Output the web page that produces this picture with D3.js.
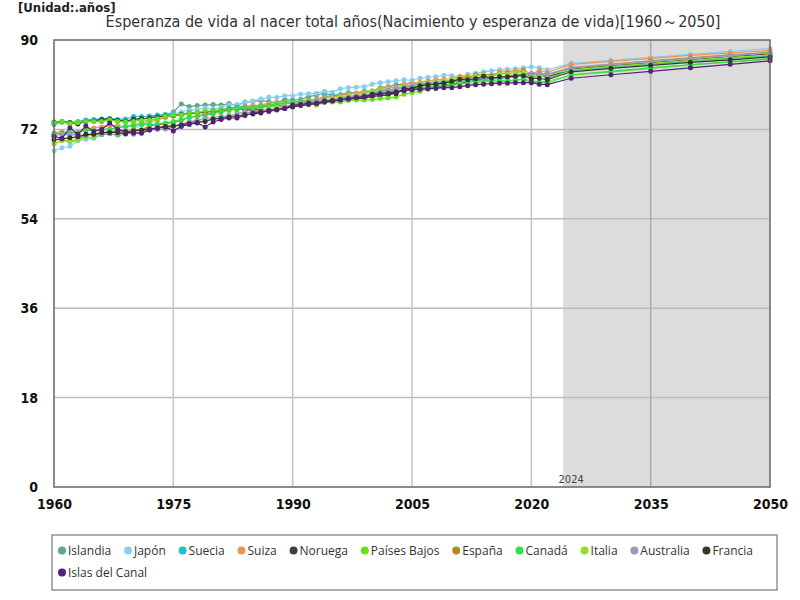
<!DOCTYPE html>
<html>
<head>
<meta charset="utf-8">
<script src="https://cdn.jsdelivr.net/npm/d3@7"></script>
<style>
  body { margin: 0; background: #fff; }
  svg text { font-family: "Open Sans", "Noto Sans", sans-serif; }
</style>
</head>
<body>
<div id="chart"></div>
<script>
// historical years 1960..2022, then the projected points
const histYears = d3.range(1960, 2023);
const projYears = [2025, 2030, 2035, 2040, 2045, 2050];
const yTicks = [0, 18, 36, 54, 72, 90];
const xTicks = [1960, 1975, 1990, 2005, 2020, 2035, 2050];
const forecastStart = 2024;

const countries = ["Islandia", "Japón", "Suecia", "Suiza", "Noruega", "Países Bajos",
  "España", "Canadá", "Italia", "Australia", "Francia", "Islas del Canal"];
const colors = ["#5ba88a", "#87cef0", "#22c0c8", "#f0954f", "#404040", "#66e01a",
  "#b08a20", "#2ee04a", "#8ee030", "#9a98b8", "#2f3a26", "#55207a"];

// 1960-2022 (63 values) + 2025..2050
const islandia = [73.4,73.5,73.1,73.3,73.6,73.7,73.6,73.9,73.9,73.7,
  74.0,73.9,74.5,74.7,74.9,75.5,77.1,76.6,76.8,76.9,
  77.0,76.9,77.2,76.8,77.5,77.6,77.8,77.6,77.4,78.0,
  77.9,78.0,78.6,78.9,79.3,78.9,79.0,79.4,79.3,79.7,
  79.7,80.4,80.6,81.0,81.1,81.4,81.2,81.4,81.6,81.8,
  81.9,82.4,82.5,82.1,82.9,82.5,82.2,82.7,82.9,83.2,
  83.1,83.2,82.2,
  84.0,84.6,85.2,85.8,86.3,86.8];
const japon = [67.7,68.3,68.6,69.7,70.0,70.2,71.0,71.3,71.6,71.8,
  72.0,72.9,73.5,73.8,74.4,75.1,75.5,75.9,76.0,76.3,
  76.1,76.4,76.9,77.0,77.4,77.7,78.1,78.5,78.4,78.8,
  78.8,79.1,79.2,79.3,79.7,79.5,80.2,80.4,80.5,80.6,
  81.1,81.4,81.6,81.8,82.0,81.9,82.3,82.5,82.6,82.9,
  82.8,82.6,83.1,83.3,83.6,83.8,84.0,84.1,84.2,84.4,
  84.6,84.4,84.0,
  85.3,85.9,86.5,87.1,87.7,88.3];
const suecia = [73.0,73.5,73.4,73.6,73.9,74.0,74.1,74.2,74.0,74.1,
  74.6,74.6,74.7,74.9,75.0,75.0,75.1,75.4,75.4,75.5,
  75.7,75.9,76.3,76.5,76.7,76.6,76.8,77.0,76.9,77.6,
  77.5,77.6,78.0,78.0,78.7,78.7,79.0,79.2,79.3,79.4,
  79.6,79.8,79.8,80.1,80.5,80.5,80.7,80.9,81.1,81.3,
  81.5,81.8,81.7,81.9,82.2,82.2,82.2,82.4,82.6,83.1,
  82.2,83.2,83.1,
  83.9,84.6,85.2,85.8,86.4,86.9];
const suiza = [71.3,71.6,71.1,71.4,72.1,72.3,72.5,72.8,72.7,72.6,
  73.0,73.2,73.8,74.0,74.4,74.7,75.0,75.3,75.3,75.6,
  75.5,75.8,76.0,76.1,76.6,76.8,76.9,77.3,77.3,77.4,
  77.2,77.6,77.9,78.1,78.4,78.5,78.8,79.1,79.3,79.5,
  79.7,80.2,80.4,80.5,81.1,81.2,81.5,81.8,82.0,82.1,
  82.2,82.7,82.7,82.7,83.2,82.9,83.6,83.6,83.8,84.0,
  83.1,83.9,83.5,
  85.1,85.7,86.3,86.9,87.4,87.9];
const noruega = [73.5,73.6,73.4,73.1,73.6,73.7,74.0,74.1,73.8,73.6,
  74.1,74.2,74.3,74.5,74.7,74.8,75.0,75.2,75.3,75.4,
  75.7,75.8,76.0,76.1,76.0,75.9,76.0,75.8,76.0,76.5,
  76.5,76.9,77.1,77.1,77.7,77.7,78.1,78.1,78.2,78.3,
  78.6,78.8,78.9,79.4,79.8,80.0,80.3,80.5,80.6,80.8,
  81.0,81.3,81.5,81.8,82.1,82.3,82.5,82.6,82.8,83.0,
  83.2,83.2,82.6,
  84.1,84.8,85.4,86.0,86.6,87.2];
const paisesBajos = [73.4,73.6,73.2,73.4,73.6,73.6,73.6,73.9,73.6,73.5,
  73.6,73.8,73.9,74.2,74.6,74.9,74.9,75.3,75.4,75.7,
  75.7,76.0,76.1,76.2,76.3,76.3,76.3,76.7,76.8,76.7,
  76.9,77.0,77.2,76.9,77.4,77.5,77.5,77.8,77.9,77.9,
  78.0,78.2,78.3,78.5,79.1,79.4,79.7,80.1,80.2,80.6,
  80.7,81.2,81.1,81.3,81.7,81.5,81.6,81.7,81.8,82.1,
  81.4,81.5,81.7,
  82.9,83.6,84.3,85.0,85.6,86.2];
const espana = [69.1,69.8,69.6,70.0,70.9,71.1,71.2,71.6,71.6,71.4,
  72.0,71.8,72.8,72.8,73.2,73.3,73.8,74.4,74.7,75.1,
  75.3,75.7,76.1,75.9,76.3,76.3,76.5,76.8,76.8,76.8,
  76.8,77.0,77.5,77.6,77.9,78.0,78.1,78.5,78.6,78.6,
  78.9,79.3,79.6,79.5,80.0,80.1,80.8,80.9,81.2,81.5,
  81.6,82.1,82.4,83.0,83.1,82.8,83.2,83.3,83.4,83.8,
  82.3,83.0,83.1,
  84.4,85.1,85.8,86.4,87.0,87.5];
const canada = [71.1,71.3,71.3,71.4,71.8,71.8,72.0,72.1,72.3,72.6,
  72.7,73.0,73.0,73.1,73.3,73.6,74.0,74.4,74.6,74.8,
  75.1,75.5,75.8,76.2,76.4,76.4,76.6,76.9,77.0,77.2,
  77.4,77.6,77.7,77.7,77.9,78.0,78.2,78.5,78.7,78.9,
  79.2,79.4,79.6,79.8,80.0,80.2,80.4,80.5,80.7,80.9,
  81.2,81.5,81.6,81.7,81.8,81.9,81.9,81.9,81.9,82.2,
  81.7,81.6,81.3,
  83.0,83.7,84.4,85.0,85.6,86.2];
const italia = [69.1,69.8,69.5,69.8,70.5,70.3,71.0,71.1,70.8,71.0,
  71.6,71.9,72.0,72.1,72.7,72.6,72.9,73.5,73.8,74.0,
  74.0,74.3,74.9,74.8,75.4,75.5,75.8,76.2,76.4,76.7,
  77.0,77.1,77.4,77.6,77.9,78.2,78.5,78.8,78.9,79.3,
  79.8,80.0,80.1,80.0,80.8,80.8,81.3,81.4,81.6,81.7,
  82.0,82.2,82.2,82.7,83.1,82.5,83.2,83.1,83.3,83.5,
  82.2,82.8,83.0,
  84.0,84.7,85.3,85.9,86.5,87.0];
const australia = [70.8,71.0,70.9,70.9,70.7,71.0,70.9,71.1,70.9,71.4,
  71.0,71.7,71.9,72.0,72.1,72.6,73.0,73.5,73.8,74.3,
  74.3,74.7,74.6,75.2,75.5,75.4,75.6,76.0,76.0,76.5,
  77.0,77.3,77.4,77.9,78.0,77.9,78.1,78.5,78.6,78.9,
  79.2,79.6,79.9,80.2,80.5,80.8,81.0,81.3,81.4,81.5,
  81.7,81.9,82.0,82.2,82.3,82.4,82.4,82.5,82.7,82.9,
  83.2,83.3,83.1,
  84.5,85.1,85.7,86.3,86.9,87.4];
const francia = [69.9,70.1,70.3,70.5,71.0,71.0,71.4,71.4,71.4,71.1,
  71.7,71.9,72.1,72.3,72.6,72.7,72.9,73.2,73.4,73.6,
  74.1,74.2,74.5,74.6,75.0,75.1,75.3,75.8,76.0,76.2,
  76.9,77.0,77.3,77.3,77.7,77.8,78.0,78.2,78.4,78.5,
  79.1,79.2,79.2,79.2,80.2,80.2,80.8,81.0,81.1,81.3,
  81.7,82.1,82.0,82.2,82.7,82.3,82.6,82.6,82.7,82.8,
  82.2,82.3,82.0,
  83.6,84.3,84.9,85.5,86.0,86.6];
const islasDelCanal = [70.6,70.2,72.3,71.0,72.7,71.6,72.0,73.3,72.0,71.6,
  71.3,71.2,71.9,72.3,72.5,71.7,72.6,73.0,73.3,72.5,
  73.5,74.0,74.3,74.3,74.8,75.3,75.6,75.6,75.9,76.2,
  76.6,76.8,77.0,77.2,77.5,77.7,77.9,78.1,78.4,78.6,
  78.8,79.1,79.3,79.6,79.8,80.0,80.1,80.2,80.3,80.4,
  80.4,80.6,80.8,81.0,81.1,81.2,81.3,81.3,81.4,81.4,
  81.4,81.1,81.0,
  82.3,83.0,83.7,84.4,85.1,85.8];

const seriesValues = [islandia, japon, suecia, suiza, noruega, paisesBajos,
  espana, canada, italia, australia, francia, islasDelCanal];

const width = 800, height = 600;
const margin = {top: 40, right: 30, bottom: 113, left: 54};

const svg = d3.select('#chart').append('svg')
  .attr('width', width)
  .attr('height', height);

const x = d3.scaleLinear()
  .domain([1960, 2050])
  .range([margin.left, width - margin.right]);
const y = d3.scaleLinear()
  .domain([0, 90])
  .range([height - margin.bottom, margin.top]);

const allYears = histYears.concat(projYears);
const series = countries.map((name, i) => ({
  name: name,
  color: colors[i],
  points: seriesValues[i].map((v, j) => ({year: allYears[j], value: v}))
}));

// forecast shading
svg.append('rect')
  .attr('x', x(forecastStart))
  .attr('y', y(90))
  .attr('width', x(2050) - x(forecastStart))
  .attr('height', y(0) - y(90))
  .attr('fill', '#dcdcdc');

// grid
svg.append('g')
  .selectAll('line')
  .data(yTicks.filter(t => t > 0 && t < 90))
  .enter().append('line')
  .attr('x1', x(1960)).attr('x2', x(2050))
  .attr('y1', d => y(d)).attr('y2', d => y(d))
  .attr('stroke', '#bdbdbd')
  .attr('stroke-width', 1.5);
svg.append('g')
  .selectAll('line')
  .data(xTicks.filter(t => t > 1960 && t < 2050))
  .enter().append('line')
  .attr('x1', d => x(d)).attr('x2', d => x(d))
  .attr('y1', y(0)).attr('y2', y(90))
  .attr('stroke', d => d > forecastStart ? '#a8a8a8' : '#c4c4c4')
  .attr('stroke-width', 1.5);

svg.append('text')
  .attr('x', x(forecastStart) + 8)
  .attr('y', y(0) - 4)
  .attr('text-anchor', 'middle')
  .style('font-family', '"DejaVu Sans Condensed", sans-serif')
  .style('font-size', '11px')
  .attr('fill', '#444')
  .text('2024');

// axes
const yAxis = d3.axisLeft(y).tickValues(yTicks).tickSize(0).tickPadding(16);
const xAxis = d3.axisBottom(x).tickValues(xTicks).tickSize(0).tickPadding(12)
  .tickFormat(d3.format('d'));

svg.append('g')
  .attr('class', 'axis y')
  .attr('transform', 'translate(' + margin.left + ',0)')
  .call(yAxis);
svg.append('g')
  .attr('class', 'axis x')
  .attr('transform', 'translate(0,' + y(0) + ')')
  .call(xAxis);

svg.selectAll('.axis .domain').remove();
svg.selectAll('.axis text')
  .style('font-family', '"DejaVu Sans Condensed", sans-serif')
  .style('font-weight', 'bold')
  .style('font-size', '14px')
  .attr('fill', '#111');

// lines + dots
const line = d3.line()
  .x(d => x(d.year))
  .y(d => y(d.value));

const groups = svg.append('g')
  .selectAll('g')
  .data(series)
  .enter().append('g');

groups.append('path')
  .attr('d', d => line(d.points))
  .attr('fill', 'none')
  .attr('stroke', d => d.color)
  .attr('stroke-width', 1.2);

groups.selectAll('circle')
  .data(d => d.points.map(p => Object.assign({color: d.color}, p)))
  .enter().append('circle')
  .attr('cx', d => x(d.year))
  .attr('cy', d => y(d.value))
  .attr('r', 2.5)
  .attr('fill', d => d.color);

// plot frame
svg.append('rect')
  .attr('x', x(1960))
  .attr('y', y(90))
  .attr('width', x(2050) - x(1960))
  .attr('height', y(0) - y(90))
  .attr('fill', 'none')
  .attr('stroke', '#666')
  .attr('stroke-width', 1.5);

// titles
svg.append('text')
  .attr('x', 18)
  .attr('y', 12)
  .style('font-family', '"DejaVu Sans Condensed", sans-serif')
  .style('font-weight', 'bold')
  .style('font-size', '13px')
  .attr('fill', '#222')
  .text('[Unidad:.años]');

svg.append('text')
  .attr('x', 413)
  .attr('y', 27)
  .attr('text-anchor', 'middle')
  .style('font-family', '"DejaVu Sans Condensed", sans-serif')
  .style('font-size', '16px')
  .attr('fill', '#333')
  .text('Esperanza de vida al nacer total años(Nacimiento y esperanza de vida)[1960～2050]');

// legend
const legend = svg.append('g');
legend.append('rect')
  .attr('x', 52).attr('y', 535)
  .attr('width', 725).attr('height', 55)
  .attr('fill', '#fff')
  .attr('stroke', '#777')
  .attr('stroke-width', 1.2);

let lx = 58, ly = 551;
series.forEach(s => {
  const item = legend.append('g');
  item.append('circle')
    .attr('cx', lx + 4).attr('cy', ly - 0.5)
    .attr('r', 4)
    .attr('fill', s.color);
  const t = item.append('text')
    .attr('x', lx + 10).attr('y', ly + 4)
    .style('font-size', '12px')
    .attr('fill', '#333')
    .text(s.name);
  const w = t.node().getComputedTextLength();
  lx += w + 22.8;
  if (lx > 750) { lx = 58; ly += 22; }
});
</script>
</body>
</html>
